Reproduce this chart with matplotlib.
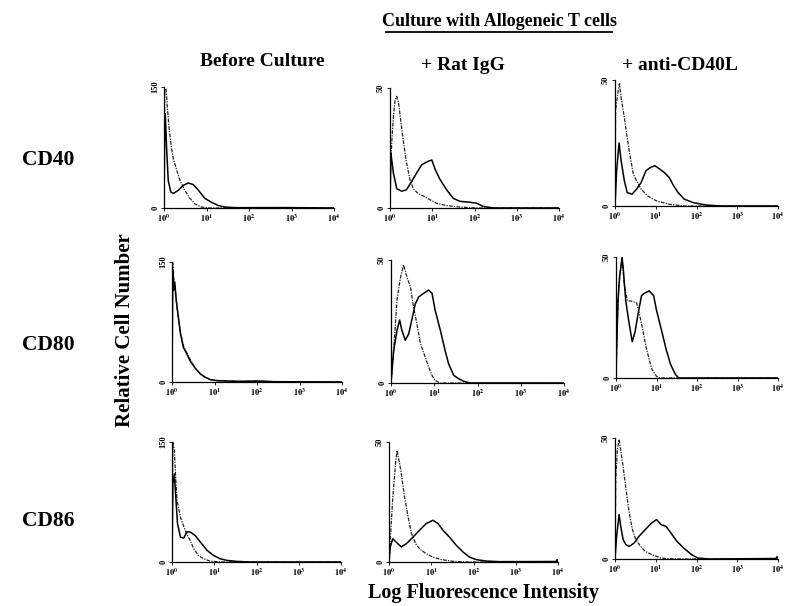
import matplotlib
matplotlib.use("Agg")
import matplotlib.pyplot as plt
from matplotlib.lines import Line2D
import numpy as np

W, H = 788, 606

# ---------------- data (log10 fluorescence, relative cell number) ----------------
row_labels = ["CD40", "CD80", "CD86"]
col_labels = ["Before Culture", "+ Rat IgG", "+ anti-CD40L"]
group_title = "Culture with Allogeneic T cells"
x_tick_labels = [r"$\mathbf{10^{0}}$", r"$\mathbf{10^{1}}$", r"$\mathbf{10^{2}}$",
                 r"$\mathbf{10^{3}}$", r"$\mathbf{10^{4}}$"]
y_max = [[150, 50, 50], [150, 50, 50], [150, 50, 50]]

# CD40 / Before Culture
r1c1_dash_x = [0, 0.016, 0.047, 0.078, 0.125, 0.18, 0.22, 0.30, 0.376, 0.49, 0.61, 0.73, 0.88, 1.08, 4.0]
r1c1_dash_y = [0, 146, 148, 125, 96, 73, 61, 47, 34, 22, 12, 5, 1.2, 0, 0]
r1c1_sol_x = [0, 0.016, 0.03, 0.06, 0.10, 0.16, 0.22, 0.34, 0.45, 0.57, 0.69, 0.81, 0.96, 1.12, 1.28, 1.43, 1.7, 2.9, 4.0]
r1c1_sol_y = [0, 88, 117, 76, 34, 20, 18, 22, 28, 31, 29, 22, 12, 7, 3, 1.2, 0.4, 0.5, 0]

# CD40 / + Rat IgG
r1c2_dash_x = [0, 0.04, 0.08, 0.12, 0.16, 0.2, 0.25, 0.31, 0.39, 0.47, 0.55, 0.67, 0.79, 0.94, 1.1, 1.34, 1.65, 2.05, 4.0]
r1c2_dash_y = [9, 27, 38, 45, 46.5, 44, 37, 28.5, 19, 12, 8, 6, 5, 3.5, 2, 1, 0.4, 0, 0]
r1c2_sol_x = [0, 0.02, 0.08, 0.16, 0.28, 0.39, 0.51, 0.63, 0.75, 0.83, 0.91, 0.99, 1.07, 1.18, 1.34, 1.50, 1.65, 1.89, 2.05, 2.2, 2.45, 4.0]
r1c2_sol_y = [0, 23, 14.6, 8, 7, 7.6, 11, 14.6, 18, 18.8, 19.5, 20, 16, 12, 7.6, 4, 2.8, 2.4, 2, 0.7, 0, 0]

# CD40 / + anti-CD40L
r1c3_dash_x = [0, 0.015, 0.08, 0.11, 0.15, 0.23, 0.3, 0.38, 0.45, 0.53, 0.64, 0.8, 1.02, 1.33, 1.7, 4.0]
r1c3_dash_y = [0, 38, 46, 48.5, 43, 35, 27, 19, 12.6, 10, 6.7, 4, 2, 0.7, 0, 0]
r1c3_sol_x = [0, 0.04, 0.1, 0.15, 0.23, 0.3, 0.42, 0.53, 0.64, 0.76, 0.87, 0.98, 1.1, 1.21, 1.33, 1.44, 1.55, 1.7, 1.93, 2.23, 2.6, 4.0]
r1c3_sol_y = [0, 14, 25, 18, 10, 5.3, 4.7, 6.7, 9.3, 14, 15.3, 16, 14.6, 13.3, 11.3, 8, 5.3, 2.7, 1.3, 0.4, 0, 0]

# CD80 / Before Culture
r2c1_dash_x = [0, 0.015, 0.04, 0.08, 0.12, 0.2, 0.27, 0.35, 0.43, 0.55, 0.67, 0.78, 0.9, 1.06, 1.3, 1.6, 2.0, 2.4, 4.0]
r2c1_dash_y = [0, 150, 131, 112, 92, 62, 45, 36, 28, 17, 10, 6, 3, 1.7, 1.2, 0.8, 1.2, 0.4, 0]
r2c1_sol_x = [0, 0.02, 0.04, 0.065, 0.1, 0.15, 0.2, 0.27, 0.35, 0.43, 0.55, 0.67, 0.78, 0.9, 1.06, 1.3, 1.6, 2.0, 2.4, 4.0]
r2c1_sol_y = [0, 140, 115, 125, 102, 81, 60, 43, 35, 26, 17, 10, 6, 3, 1.7, 1.2, 0.8, 1.2, 0.4, 0]

# CD80 / + Rat IgG
r2c2_dash_x = [0, 0.06, 0.14, 0.22, 0.29, 0.37, 0.45, 0.52, 0.6, 0.68, 0.79, 0.87, 0.95, 1.02, 1.14, 4.0]
r2c2_dash_y = [0, 13, 34, 43, 48, 43, 39, 31, 24, 16, 10.6, 6.5, 3, 1, 0, 0]
r2c2_sol_x = [0, 0.06, 0.14, 0.2, 0.25, 0.33, 0.41, 0.48, 0.56, 0.64, 0.75, 0.87, 0.95, 1.02, 1.14, 1.25, 1.33, 1.45, 1.56, 1.68, 1.83, 4.0]
r2c2_sol_y = [0, 13, 21.5, 25.6, 21.5, 17.4, 20, 25.6, 32, 35, 36.4, 37.8, 36.4, 29.6, 21.5, 13.3, 7.9, 3.1, 1.8, 0.7, 0, 0]

# CD80 / + anti-CD40L
r2c3_dash_x = [0, 0.015, 0.05, 0.09, 0.15, 0.2, 0.28, 0.4, 0.51, 0.59, 0.66, 0.74, 0.82, 0.89, 1.0, 1.08, 4.0]
r2c3_dash_y = [0, 11.7, 32, 42, 49.7, 39, 32, 31.7, 31, 25.5, 20, 13, 7.6, 3.5, 0.7, 0, 0]
r2c3_sol_x = [0, 0.015, 0.05, 0.09, 0.15, 0.18, 0.24, 0.32, 0.4, 0.47, 0.55, 0.63, 0.7, 0.82, 0.93, 1.0, 1.12, 1.24, 1.35, 1.47, 1.55, 4.0]
r2c3_sol_y = [0, 11.7, 32, 42, 49.7, 45, 32, 23, 15, 19, 27, 34, 35, 36, 34, 28, 20, 11.7, 5.5, 1.4, 0, 0]

# CD86 / Before Culture
r3c1_dash_x = [0, 0.02, 0.055, 0.09, 0.12, 0.2, 0.28, 0.35, 0.43, 0.51, 0.63, 0.75, 0.9, 1.14, 4.0]
r3c1_dash_y = [0, 150, 140, 102, 77, 56, 44, 35, 27, 17, 8, 4, 1.2, 0, 0]
r3c1_sol_x = [0, 0.02, 0.055, 0.09, 0.13, 0.2, 0.28, 0.35, 0.43, 0.55, 0.67, 0.83, 0.98, 1.14, 1.3, 1.53, 1.85, 4.0]
r3c1_sol_y = [0, 98, 110, 81, 48, 31, 30, 37.5, 37.5, 33, 25, 14.6, 8.3, 4, 2, 0.8, 0, 0]

# CD86 / + Rat IgG
r3c2_dash_x = [0, 0.03, 0.09, 0.16, 0.19, 0.24, 0.29, 0.37, 0.45, 0.53, 0.65, 0.76, 0.88, 1.04, 1.24, 1.51, 1.83, 4.0]
r3c2_dash_y = [0, 9, 27, 42, 46.5, 42, 37, 27, 19, 12, 7, 4.9, 3.5, 2, 1, 0.3, 0, 0]
r3c2_sol_x = [0, 0.03, 0.09, 0.17, 0.29, 0.41, 0.57, 0.72, 0.88, 1.04, 1.16, 1.28, 1.43, 1.59, 1.75, 1.9, 2.06, 2.3, 2.6, 3.95, 3.98, 4.0]
r3c2_sol_y = [0, 6.3, 9.7, 8.3, 6.3, 7.6, 10.4, 13.2, 16, 17.4, 16, 13.2, 10.4, 7, 4.2, 2.1, 1, 0.4, 0.15, 0.2, 1.0, 0]

# CD86 / + anti-CD40L
r3c3_dash_x = [0, 0.02, 0.055, 0.1, 0.13, 0.2, 0.27, 0.35, 0.43, 0.51, 0.63, 0.74, 0.9, 1.13, 1.45, 4.0]
r3c3_dash_y = [0, 33, 45, 49.4, 46, 38, 28.7, 19, 12, 8, 5.2, 3.2, 1.8, 0.4, 0, 0]
r3c3_sol_x = [0, 0.04, 0.1, 0.14, 0.2, 0.27, 0.35, 0.47, 0.59, 0.74, 0.9, 1.02, 1.13, 1.25, 1.37, 1.52, 1.68, 1.88, 2.03, 2.3, 3.95, 3.98, 4.0]
r3c3_sol_y = [0, 9.4, 18.4, 13.5, 8, 5.9, 5.2, 6.6, 9.4, 12.1, 14.9, 16.3, 14.2, 13.5, 10.8, 7.3, 4.6, 1.8, 0.4, 0, 0.2, 1.0, 0]

panels = [
    [(r1c1_dash_x, r1c1_dash_y, r1c1_sol_x, r1c1_sol_y),
     (r1c2_dash_x, r1c2_dash_y, r1c2_sol_x, r1c2_sol_y),
     (r1c3_dash_x, r1c3_dash_y, r1c3_sol_x, r1c3_sol_y)],
    [(r2c1_dash_x, r2c1_dash_y, r2c1_sol_x, r2c1_sol_y),
     (r2c2_dash_x, r2c2_dash_y, r2c2_sol_x, r2c2_sol_y),
     (r2c3_dash_x, r2c3_dash_y, r2c3_sol_x, r2c3_sol_y)],
    [(r3c1_dash_x, r3c1_dash_y, r3c1_sol_x, r3c1_sol_y),
     (r3c2_dash_x, r3c2_dash_y, r3c2_sol_x, r3c2_sol_y),
     (r3c3_dash_x, r3c3_dash_y, r3c3_sol_x, r3c3_sol_y)],
]

# ---------------- layout (pixel boxes: left, right, top, bottom) ----------------
boxes = [
    [(164, 334, 87, 208), (390, 559, 88, 208), (615, 778, 80, 206)],
    [(172, 342, 262, 382), (391, 564, 260, 383), (616, 778, 257, 378)],
    [(172, 341, 442, 562), (389, 558, 442, 562), (615, 778, 438, 559)],
]

plt.rcParams['font.family'] = ['Liberation Serif', 'DejaVu Serif']
plt.rcParams['mathtext.fontset'] = 'stix'

fig = plt.figure(figsize=(W / 100, H / 100), dpi=100)
fig.patch.set_facecolor('white')

def fx(px):
    return px / W

def fy(py):
    return 1 - py / H

for r in range(3):
    for c in range(3):
        l, rr, t, b = boxes[r][c]
        ax = fig.add_axes([fx(l), fy(b), (rr - l) / W, (b - t) / H])
        dx, dy, sx, sy = panels[r][c]
        ax.plot(10 ** np.array(dx), dy, color='#222222', lw=0.9,
                linestyle=(0, (3, 1, 1, 1)))
        ax.plot(10 ** np.array(sx), sy, color='black', lw=1.1)
        ax.set_xscale('log')
        ax.set_xlim(1, 1e4)
        ym = y_max[r][c]
        ax.set_ylim(0, ym)
        ax.set_xticks([1, 10, 100, 1000, 10000])
        ax.set_xticklabels(x_tick_labels, fontsize=6)
        ax.xaxis.set_minor_locator(matplotlib.ticker.NullLocator())
        ax.set_yticks([0, ym])
        ax.set_yticklabels(["0", str(ym)], fontsize=6, rotation=90, va='center',
                           fontweight='bold')
        ax.tick_params(length=2, width=0.6, pad=1.5)
        for s in ['top', 'right']:
            ax.spines[s].set_visible(False)
        for s in ['left', 'bottom']:
            ax.spines[s].set_linewidth(0.9)
        ax.set_facecolor('none')

# column titles
fig.text(fx(500), fy(22), group_title, ha='center', va='center',
         fontsize=13, fontweight='bold')
fig.add_artist(Line2D([fx(386), fx(612)], [fy(32), fy(32)], color='black', lw=1.3))
col_x = [262, 463, 680]
col_y = [62, 65, 65]
for i, lab in enumerate(col_labels):
    fig.text(fx(col_x[i]), fy(col_y[i]), lab, ha='center', va='center',
             fontsize=14, fontweight='bold')

# row labels
row_y = [160, 345, 521]
for i, lab in enumerate(row_labels):
    fig.text(fx(22), fy(row_y[i]), lab, ha='left', va='center',
             fontsize=15.5, fontweight='bold')

fig.text(fx(125), fy(330), "Relative Cell Number", ha='center', va='center',
         rotation=90, fontsize=15, fontweight='bold')
fig.text(fx(484), fy(593), "Log Fluorescence Intensity", ha='center', va='center',
         fontsize=14.5, fontweight='bold')

fig.savefig("out.png", dpi=100, facecolor='white')
